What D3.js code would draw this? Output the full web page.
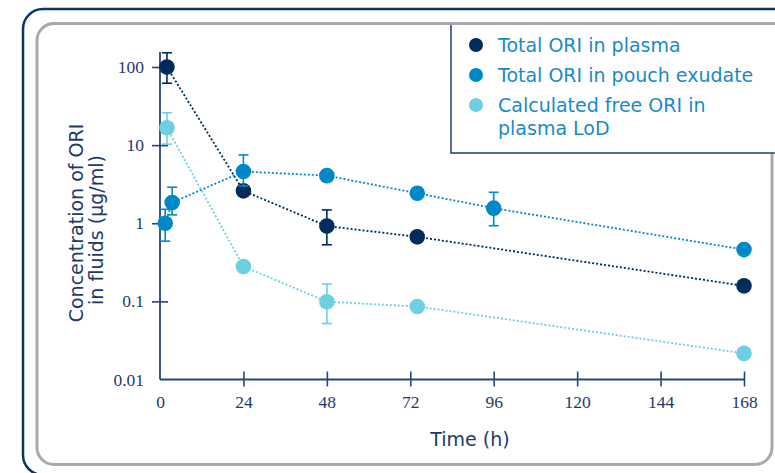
<!DOCTYPE html>
<html>
<head>
<meta charset="utf-8">
<script src="https://cdn.jsdelivr.net/npm/d3@7"></script>
<style>
  body { margin: 0; background: #fff; }
  svg { display: block; }
</style>
</head>
<body>
<div id="chart"></div>
<script>
'use strict'

////////////////////////////////////
/////////////// data ///////////////
////////////////////////////////////

const seriesNames = ['Total ORI in plasma', 'Total ORI in pouch exudate', 'Calculated free ORI in plasma LoD']
const seriesColors = ['#002b5c', '#0089c8', '#6dcfe2']

// time (h), value (µg/ml), error low, error high
const plasmaTime = [2, 24, 48, 74, 168]
const plasmaValue = [100, 2.6, 0.92, 0.67, 0.158]
const plasmaLow = [62, null, 0.53, null, null]
const plasmaHigh = [152, null, 1.48, null, null]

const exudateTime = [1.5, 3.5, 24, 48, 74, 96, 168]
const exudateValue = [1.0, 1.84, 4.6, 4.07, 2.42, 1.56, 0.46]
const exudateLow = [0.59, 1.28, 3.0, null, null, 0.93, null]
const exudateHigh = [1.51, 2.89, 7.5, null, null, 2.49, null]

const freeTime = [2, 24, 48, 74, 168]
const freeValue = [16.7, 0.28, 0.099, 0.086, 0.0216]
const freeLow = [10.3, null, 0.052, null, null]
const freeHigh = [26, null, 0.167, null, null]

const xTicks = [0, 24, 48, 72, 96, 120, 144, 168]
const yTicks = [0.01, 0.1, 1, 10, 100]
const yTickLabels = ['0.01', '0.1', '1', '10', '100']

const series = [
    { name: seriesNames[0], color: seriesColors[0], t: plasmaTime, v: plasmaValue, lo: plasmaLow, hi: plasmaHigh },
    { name: seriesNames[1], color: seriesColors[1], t: exudateTime, v: exudateValue, lo: exudateLow, hi: exudateHigh },
    { name: seriesNames[2], color: seriesColors[2], t: freeTime, v: freeValue, lo: freeLow, hi: freeHigh }
]

////////////////////////////////////
//////////// svg setup /////////////
////////////////////////////////////

const svgWidth = 775
const svgHeight = 473

const svg = d3.select('#chart').append('svg')
    .attr('width', svgWidth)
    .attr('height', svgHeight)

const axisColor = '#25467a'
const textColor = '#1f3a68'
const sansFont = "'DejaVu Sans', sans-serif"
const serifFont = "'Liberation Serif', serif"

// frames
svg.append('rect')
    .attr('x', 23).attr('y', 9)
    .attr('width', 800).attr('height', 466)
    .attr('rx', 20)
    .attr('fill', 'none')
    .attr('stroke', '#0c3468')
    .attr('stroke-width', 2.5)

svg.append('rect')
    .attr('x', 37).attr('y', 23.5)
    .attr('width', 735).attr('height', 441)
    .attr('rx', 17)
    .attr('fill', '#fff')
    .attr('stroke', '#a7a9ac')
    .attr('stroke-width', 3)

////////////////////////////////////
//////////////scales////////////////
////////////////////////////////////

const xScale = d3.scaleLinear()
    .domain([0, 168])
    .range([160, 744])

const yScale = d3.scaleLog()
    .domain([0.01, 100])
    .range([379.5, 67])

////////////////////////////////////
///////////////axis/////////////////
////////////////////////////////////

// axis lines
svg.append('line')
    .attr('x1', xScale(0)).attr('x2', xScale(0))
    .attr('y1', 52).attr('y2', yScale(0.01))
    .attr('stroke', axisColor).attr('stroke-width', 1.8)

svg.append('line')
    .attr('x1', xScale(0)).attr('x2', xScale(168))
    .attr('y1', yScale(0.01)).attr('y2', yScale(0.01))
    .attr('stroke', axisColor).attr('stroke-width', 1.8)

const xAxis = svg.append('g')
    .attr('transform', `translate(0,${yScale(0.01)})`)
    .call(d3.axisBottom(xScale).tickValues(xTicks).tickSize(8))

xAxis.select('.domain').remove()
xAxis.selectAll('.tick line')
    .attr('y1', -8).attr('y2', 7)
    .attr('stroke', axisColor).attr('stroke-width', 1.6)
xAxis.selectAll('.tick')
    .filter(d => d === 0).select('line').remove()
xAxis.selectAll('.tick text')
    .attr('font-family', serifFont)
    .attr('font-size', 17.5)
    .attr('fill', textColor)
    .attr('y', 28.5)
    .attr('dy', 0)

const yAxis = svg.append('g')
    .attr('transform', `translate(${xScale(0)},0)`)
    .call(d3.axisLeft(yScale).tickValues(yTicks)
        .tickFormat((d, i) => yTickLabels[i]).tickSize(8))

yAxis.select('.domain').remove()
yAxis.selectAll('.tick line')
    .attr('x1', -8).attr('x2', 8)
    .attr('stroke', axisColor).attr('stroke-width', 1.6)
yAxis.selectAll('.tick')
    .filter(d => d === 0.01).select('line').remove()
yAxis.selectAll('.tick text')
    .attr('font-family', serifFont)
    .attr('font-size', 17.5)
    .attr('fill', textColor)
    .attr('x', -16)
    .attr('y', 5.5)
    .attr('dy', 0)

// axis titles
svg.append('text')
    .attr('x', 470).attr('y', 446)
    .attr('text-anchor', 'middle')
    .attr('font-family', sansFont)
    .attr('font-size', 19)
    .attr('fill', textColor)
    .text('Time (h)')

const yTitle = svg.append('text')
    .attr('transform', 'translate(83,223) rotate(-90)')
    .attr('text-anchor', 'middle')
    .attr('font-family', sansFont)
    .attr('font-size', 19)
    .attr('fill', textColor)

yTitle.append('tspan').attr('x', 0).attr('y', 0).text('Concentration of ORI')
yTitle.append('tspan').attr('x', -7).attr('y', 20).text('in fluids (µg/ml)')

////////////////////////////////////
/////////////// DOM ////////////////
////////////////////////////////////

const line = d3.line()
    .x(d => xScale(d.t))
    .y(d => yScale(d.v))

const rows = series.map(s => s.t.map((t, i) => ({ t: t, v: s.v[i], lo: s.lo[i], hi: s.hi[i], color: s.color })))

svg.append('g')
    .selectAll('path')
    .data(rows)
    .join('path')
    .attr('d', line)
    .attr('fill', 'none')
    .attr('stroke', (d, i) => series[i].color)
    .attr('stroke-width', 1.8)
    .attr('stroke-dasharray', '2,2')

const groups = svg.append('g')
    .selectAll('g')
    .data(rows)
    .join('g')

const capW = 5

groups.each(function (pts) {
    const g = d3.select(this)
    const withErr = pts.filter(d => d.lo !== null)

    g.selectAll('line.bar')
        .data(withErr)
        .join('line')
        .attr('class', 'bar')
        .attr('x1', d => xScale(d.t)).attr('x2', d => xScale(d.t))
        .attr('y1', d => yScale(d.hi)).attr('y2', d => yScale(d.lo))
        .attr('stroke', d => d.color).attr('stroke-width', 1.6)

    g.selectAll('line.caphi')
        .data(withErr)
        .join('line')
        .attr('class', 'caphi')
        .attr('x1', d => xScale(d.t) - capW).attr('x2', d => xScale(d.t) + capW)
        .attr('y1', d => yScale(d.hi)).attr('y2', d => yScale(d.hi))
        .attr('stroke', d => d.color).attr('stroke-width', 1.6)

    g.selectAll('line.caplo')
        .data(withErr)
        .join('line')
        .attr('class', 'caplo')
        .attr('x1', d => xScale(d.t) - capW).attr('x2', d => xScale(d.t) + capW)
        .attr('y1', d => yScale(d.lo)).attr('y2', d => yScale(d.lo))
        .attr('stroke', d => d.color).attr('stroke-width', 1.6)

    g.selectAll('circle')
        .data(pts)
        .join('circle')
        .attr('cx', d => xScale(d.t))
        .attr('cy', d => yScale(d.v))
        .attr('r', 7.8)
        .attr('fill', d => d.color)
})

////////////////////////////////////
////////////// legend //////////////
////////////////////////////////////

svg.append('rect')
    .attr('x', 451).attr('y', 23.5)
    .attr('width', 400).attr('height', 129.5)
    .attr('fill', '#fff')
    .attr('stroke', '#2b4a7a')
    .attr('stroke-width', 1.6)

// gray frame top edge passes over the legend box
svg.append('line')
    .attr('x1', 450).attr('x2', 775)
    .attr('y1', 23.5).attr('y2', 23.5)
    .attr('stroke', '#a7a9ac').attr('stroke-width', 3)

const legendLines = [['Total ORI in plasma'], ['Total ORI in pouch exudate'], ['Calculated free ORI in', 'plasma LoD']]
const legendY = [45, 75, 105]

const legend = svg.append('g')
    .selectAll('g')
    .data(series)
    .join('g')
    .attr('transform', (d, i) => `translate(476,${legendY[i]})`)

legend.append('circle')
    .attr('r', 7)
    .attr('fill', d => d.color)

legend.append('text')
    .attr('font-family', sansFont)
    .attr('font-size', 19)
    .attr('fill', '#1a8ac6')
    .selectAll('tspan')
    .data((d, i) => legendLines[i])
    .join('tspan')
    .attr('x', 22)
    .attr('y', (d, j) => 7 + j * 23)
    .text(d => d)
</script>
</body>
</html>
